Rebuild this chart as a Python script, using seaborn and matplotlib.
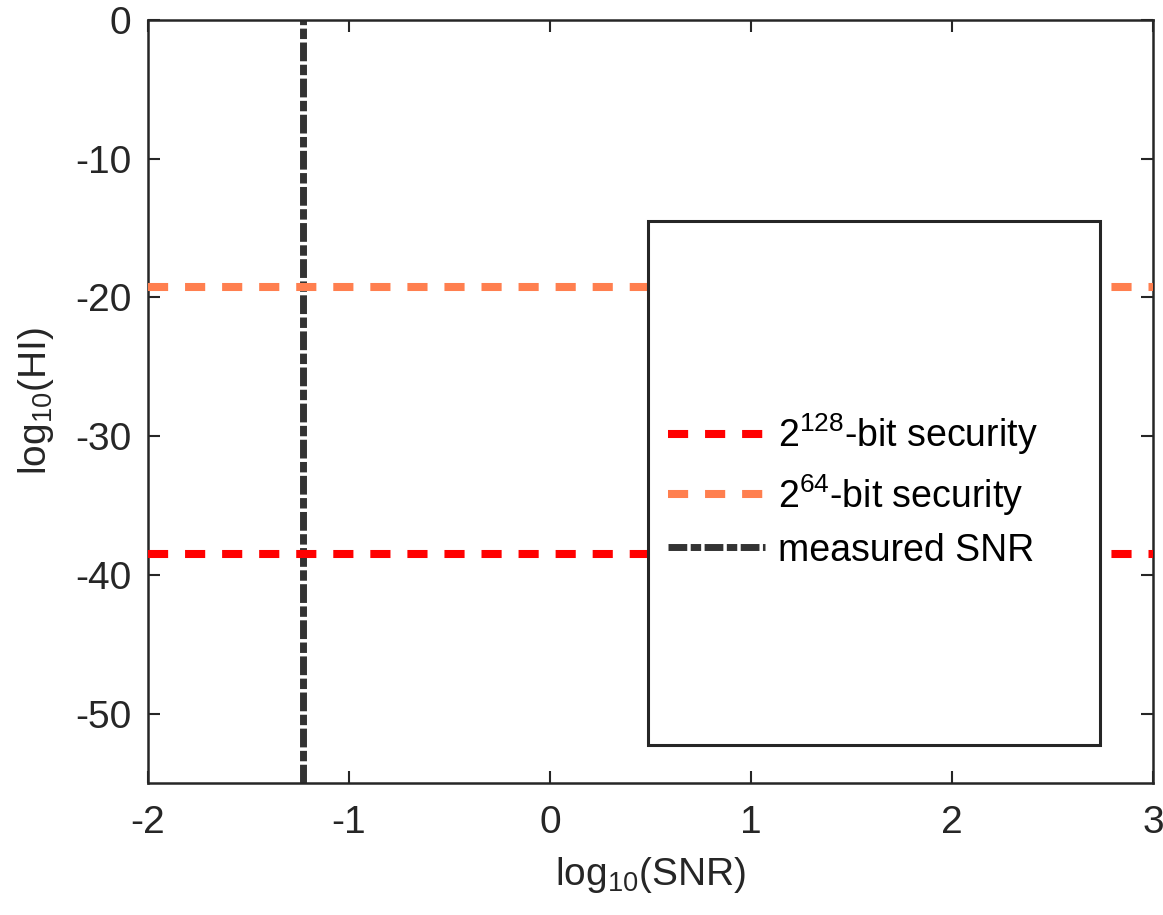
import numpy as np
import pandas as pd
import matplotlib
matplotlib.use("Agg")
import matplotlib.pyplot as plt
from matplotlib.patches import Rectangle
import seaborn as sns

# ---- data ----
x_limits = [-2, 3]
y_limits = [-55, 0]
x_ticks = [-2, -1, 0, 1, 2, 3]
y_ticks = [-50, -40, -30, -20, -10, 0]
sec128_level = [-38.53]     # log10(2^-128)
sec64_level = [-19.27]      # log10(2^-64)
measured_snr = [-1.23]      # log10 of measured SNR
labels = [r"2$^{128}$-bit security", r"2$^{64}$-bit security", "measured SNR"]
colors = ["#FF0000", "#FF7F4F", "#333333"]

sns.set_theme(style="white")
plt.rcParams["font.family"] = ["Liberation Sans", "DejaVu Sans"]
plt.rcParams["mathtext.default"] = "regular"

txt = "#262626"
fig = plt.figure(figsize=(11.63, 9.15), dpi=100)
ax = fig.add_axes([0.1273, 0.1443, 0.8641, 0.8339])

df128 = pd.DataFrame({"x": x_limits, "y": sec128_level * 2})
df64 = pd.DataFrame({"x": x_limits, "y": sec64_level * 2})
dfm = pd.DataFrame({"x": measured_snr * 2, "y": y_limits})

sns.lineplot(data=dfm, x="x", y="y", estimator=None, sort=False, ax=ax,
             color=colors[2], linewidth=5.0, zorder=2)
l_m = ax.lines[-1]
l_m.set_dashes((2.7, 0.5, 1.5, 0.5))
sns.lineplot(data=df64, x="x", y="y", estimator=None, sort=False, ax=ax,
             color=colors[1], linewidth=5.8, zorder=3)
l_64 = ax.lines[-1]
l_64.set_dashes((2.5, 2.1))
sns.lineplot(data=df128, x="x", y="y", estimator=None, sort=False, ax=ax,
             color=colors[0], linewidth=5.8, zorder=3)
l_128 = ax.lines[-1]
l_128.set_dashes((2.5, 2.1))

ax.set_xlim(x_limits)
ax.set_ylim(y_limits)
ax.set_xticks(x_ticks)
ax.set_yticks(y_ticks)
ax.set_xticklabels([str(t) for t in x_ticks])
ax.set_yticklabels([str(t) for t in y_ticks])

ax.tick_params(axis="both", which="both", direction="in", length=8.5, width=1.5,
               colors=txt, labelsize=28, top=True, right=True, bottom=True, left=True)
ax.tick_params(axis="x", pad=16)
ax.tick_params(axis="y", pad=12)
for s in ax.spines.values():
    s.set_visible(True)
    s.set_color(txt)
    s.set_linewidth(1.8)

ax.set_xlabel(r"log$_{10}$(SNR)", fontsize=28, color=txt, labelpad=10)
ax.set_ylabel(r"log$_{10}$(HI)", fontsize=28, color=txt, labelpad=14)

# big legend box (MATLAB-style)
rect = Rectangle((0.4975, 0.0498), 0.4498, 0.6868, transform=ax.transAxes,
                 facecolor="white", edgecolor=txt, linewidth=2.2, zorder=5)
ax.add_patch(rect)

leg = ax.legend(handles=[l_128, l_64, l_m], labels=labels, loc="center left",
                bbox_to_anchor=(0.517, 0.384), frameon=False, fontsize=27,
                handlelength=2.6, handletextpad=0.35, labelspacing=0.4,
                borderpad=0, borderaxespad=0)
leg.set_zorder(6)
for t in leg.get_texts():
    t.set_color("black")

fig.savefig("out.png", dpi=100)
